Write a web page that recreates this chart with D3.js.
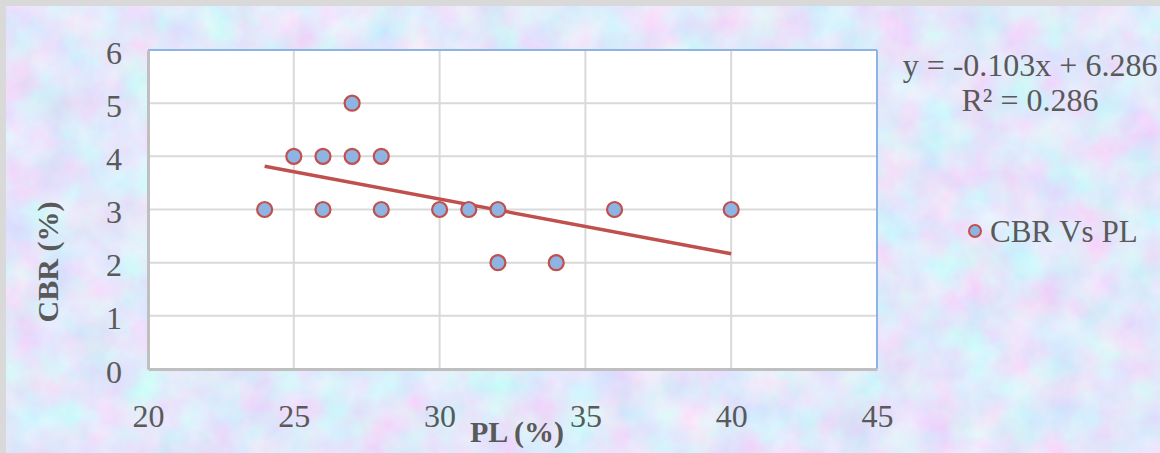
<!DOCTYPE html>
<html>
<head>
<meta charset="utf-8">
<script src="https://cdn.jsdelivr.net/npm/d3@7"></script>
<style>
  body { margin: 0; padding: 0; overflow: hidden; }
  svg { display: block; }
  text { font-family: "Liberation Serif", "Times New Roman", serif; }
</style>
</head>
<body>
<div id="chart"></div>
<script>
// data
const plValues  = [24, 25, 26, 26, 27, 27, 28, 28, 30, 31, 32, 32, 34, 36, 40];
const cbrValues = [ 3,  4,  4,  3,  4,  5,  4,  3,  3,  3,  3,  2,  2,  3,  3];
const xTicks = [20, 25, 30, 35, 40, 45];
const yTicks = [0, 1, 2, 3, 4, 5, 6];
const trend = [-0.103, 6.286];   // slope, intercept
const trendLabels = ["y = -0.103x + 6.286", "R\u00b2 = 0.286"];
const seriesName = "CBR Vs PL";

const w = 1160, h = 453;
const plotL = 148, plotR = 877, plotT = 50, plotB = 369;

const svg = d3.select("#chart").append("svg")
    .attr("width", w)
    .attr("height", h);

// textured background
const defs = svg.append("defs");
const f = defs.append("filter").attr("id", "tex")
    .attr("x", 0).attr("y", 0).attr("width", "100%").attr("height", "100%");
f.append("feTurbulence")
    .attr("type", "fractalNoise")
    .attr("baseFrequency", "0.025")
    .attr("numOctaves", 4)
    .attr("seed", 7);
f.append("feColorMatrix")
    .attr("type", "matrix")
    .attr("values", "0.5 0 0 0 0.51  -0.2 0.35 0 0 0.73  0 0 0.1 0 0.91  0 0 0 0 1");

svg.append("rect")
    .attr("width", w).attr("height", h)
    .attr("fill", "#c4d2f4");
svg.append("rect")
    .attr("width", w).attr("height", h)
    .attr("filter", "url(#tex)");

// grey frame on top / left
svg.append("rect").attr("x", 0).attr("y", 0).attr("width", w).attr("height", 6).attr("fill", "#d9d9d9");
svg.append("rect").attr("x", 0).attr("y", 0).attr("width", 6).attr("height", h).attr("fill", "#d9d9d9");

const xScale = d3.scaleLinear().domain([20, 45]).range([plotL, plotR]);
const yScale = d3.scaleLinear().domain([0, 6]).range([plotB, plotT]);

// plot area
svg.append("rect")
    .attr("x", plotL).attr("y", plotT)
    .attr("width", plotR - plotL).attr("height", plotB - plotT)
    .attr("fill", "#ffffff");

// gridlines
svg.append("g")
    .selectAll("line")
    .data(xTicks.slice(1, -1))
    .enter()
    .append("line")
    .attr("x1", (d) => xScale(d)).attr("x2", (d) => xScale(d))
    .attr("y1", plotT).attr("y2", plotB)
    .attr("stroke", "#d9d9d9")
    .attr("stroke-width", 2);

svg.append("g")
    .selectAll("line")
    .data(yTicks.slice(1, -1))
    .enter()
    .append("line")
    .attr("x1", plotL).attr("x2", plotR)
    .attr("y1", (d) => yScale(d)).attr("y2", (d) => yScale(d))
    .attr("stroke", "#d9d9d9")
    .attr("stroke-width", 2);

// plot border: blue top/right, grey axes left/bottom
svg.append("line")
    .attr("x1", plotL).attr("x2", plotR).attr("y1", plotT).attr("y2", plotT)
    .attr("stroke", "#8eb4e3").attr("stroke-width", 2);
svg.append("line")
    .attr("x1", plotR).attr("x2", plotR).attr("y1", plotT).attr("y2", plotB)
    .attr("stroke", "#8eb4e3").attr("stroke-width", 2);

const xAxis = svg.append("g")
    .attr("transform", "translate(0," + plotB + ")")
    .call(d3.axisBottom(xScale).tickValues(xTicks).tickFormat(d3.format("d")).tickSize(0).tickPadding(0));
xAxis.select(".domain").attr("stroke", "#bfbfbf").attr("stroke-width", 3);
xAxis.selectAll("text")
    .attr("y", 58).attr("dy", 0)
    .attr("font-size", "32px")
    .attr("font-family", "Liberation Serif, serif")
    .attr("fill", "#595959");

const yAxis = svg.append("g")
    .attr("transform", "translate(" + plotL + ",0)")
    .call(d3.axisLeft(yScale).tickValues(yTicks).tickFormat(d3.format("d")).tickSize(0).tickPadding(0));
yAxis.select(".domain").attr("stroke", "#bfbfbf").attr("stroke-width", 3);
yAxis.selectAll("text")
    .attr("x", -26).attr("dy", 13)
    .attr("font-size", "32px")
    .attr("font-family", "Liberation Serif, serif")
    .attr("fill", "#595959");

// axis titles
svg.append("text")
    .attr("x", 517).attr("y", 442)
    .attr("text-anchor", "middle")
    .attr("font-size", "30px")
    .attr("font-weight", "bold")
    .attr("fill", "#595959")
    .text("PL (%)");

svg.append("text")
    .attr("transform", "translate(58,262) rotate(-90)")
    .attr("text-anchor", "middle")
    .attr("font-size", "30px")
    .attr("font-weight", "bold")
    .attr("fill", "#595959")
    .text("CBR (%)");

// trendline
const xMin = d3.min(plValues), xMax = d3.max(plValues);
svg.append("line")
    .attr("x1", xScale(xMin)).attr("y1", yScale(trend[0] * xMin + trend[1]))
    .attr("x2", xScale(xMax)).attr("y2", yScale(trend[0] * xMax + trend[1]))
    .attr("stroke", "#c0504d")
    .attr("stroke-width", 3.5);

// points
svg.selectAll("circle.point")
    .data(plValues.map((d, i) => [d, cbrValues[i]]))
    .enter()
    .append("circle")
    .attr("class", "point")
    .attr("cx", (d) => xScale(d[0]))
    .attr("cy", (d) => yScale(d[1]))
    .attr("r", 7.5)
    .attr("fill", "#8eb4e3")
    .attr("stroke", "#c0504d")
    .attr("stroke-width", 2.2);

// equation
svg.selectAll("text.eq")
    .data(trendLabels)
    .enter()
    .append("text")
    .attr("class", "eq")
    .attr("x", 1030)
    .attr("y", (d, i) => 76 + i * 35)
    .attr("text-anchor", "middle")
    .attr("font-size", "32px")
    .attr("fill", "#595959")
    .text((d) => d);

// legend
svg.append("circle")
    .attr("cx", 975).attr("cy", 231).attr("r", 6)
    .attr("fill", "#8eb4e3")
    .attr("stroke", "#c0504d")
    .attr("stroke-width", 2);
svg.append("text")
    .attr("x", 990).attr("y", 242)
    .attr("font-size", "31px")
    .attr("fill", "#595959")
    .text(seriesName);
</script>
</body>
</html>
